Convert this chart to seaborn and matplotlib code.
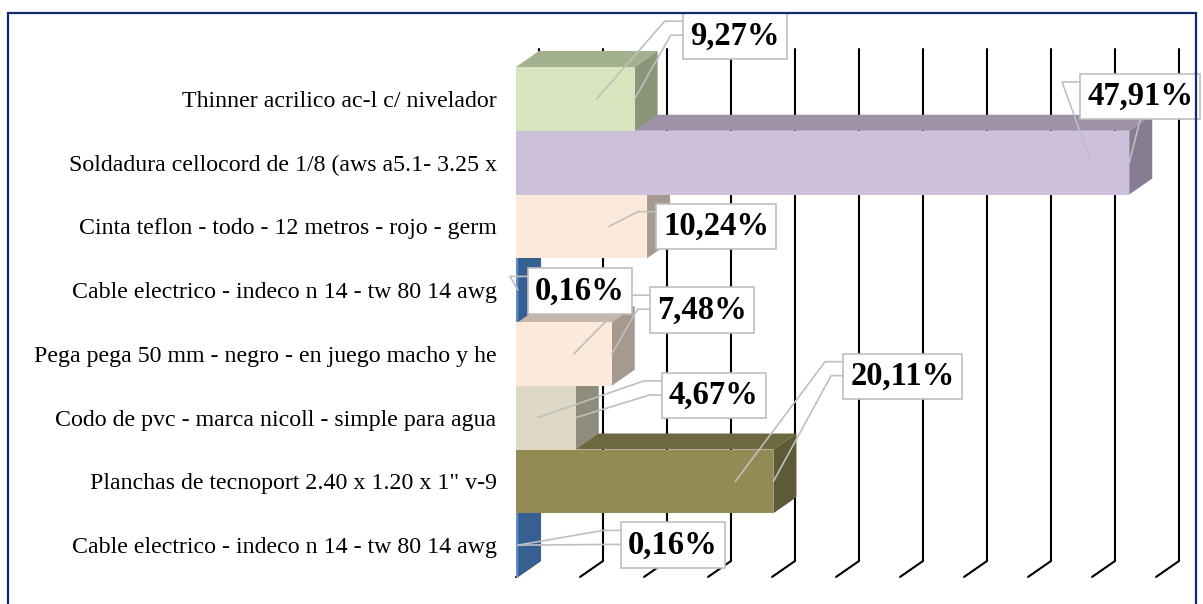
import matplotlib
matplotlib.use("Agg")
import matplotlib.pyplot as plt
from matplotlib.patches import Polygon, Rectangle
from matplotlib.lines import Line2D
import pandas as pd
import seaborn as sns

# ---------------------------------------------------------------
# data (top to bottom as shown in the chart)
# ---------------------------------------------------------------
items = [
    "Thinner acrilico ac-l c/ nivelador",
    "Soldadura cellocord de 1/8 (aws a5.1- 3.25 x",
    "Cinta teflon - todo - 12 metros - rojo - germ",
    "Cable electrico - indeco n 14 - tw 80 14 awg",
    "Pega pega 50 mm - negro - en juego macho y he",
    "Codo de pvc - marca nicoll - simple para agua",
    "Planchas de tecnoport 2.40 x 1.20 x 1\" v-9",
    "Cable electrico - indeco n 14 - tw 80 14 awg",
]
shares = [9.27, 47.91, 10.24, 0.16, 7.48, 4.67, 20.11, 0.16]
x_ticks = [0, 5, 10, 15, 20, 25, 30, 35, 40, 45, 50]

# colours of the three visible faces of each bar
front_cols = ["#D7E4BD", "#CCC0DA", "#FDE9D9", "#5B8FCF",
              "#FDE9D9", "#DDD9C4", "#948A54", "#5B8FCF"]
top_cols = ["#A4B18F", "#9D92A8", "#C2B3A8", "#2F5580",
            "#C5B6AA", "#A9A696", "#6E6840", "#2F5580"]
side_cols = ["#8A9677", "#877D92", "#A59A90", "#376092",
             "#A69A90", "#8F8C7C", "#5E5936", "#376092"]

# label box offsets from bar end (px: right, down)
box_offsets = [(100, -63), (11, -66), (69, 0), (62, 1),
               (90, -44), (138, -22), (129, -105), (155, 0)]

W, H, DPI = 1203, 604, 100
DX, DY = 23, 16  # depth of the 3D effect in px

sns.set_theme(style="white")
plt.rcParams["font.family"] = ["Liberation Serif", "DejaVu Serif"]

fig = plt.figure(figsize=(W / DPI, H / DPI), dpi=DPI)
ax = fig.add_axes([516 / W, 27 / H, 640 / W, 510 / H])

ids = [str(i) for i in range(len(items))]
df = pd.DataFrame({"id": ids, "share": shares})
sns.barplot(data=df, x="share", y="id", hue="id", order=ids,
            palette=dict(zip(ids, front_cols)), width=1.0, legend=False,
            linewidth=0, saturation=1, ax=ax)

ax.set_xlim(0, 50)
ax.set_ylim(len(items) - 0.5, -0.5)
ax.set_xticks([])
ax.set_yticks(range(len(items)))
ax.set_yticklabels(items, fontsize=17.2, color="black")
ax.tick_params(axis="y", length=0, pad=14)
ax.set_xlabel("")
ax.set_ylabel("")
sns.despine(ax=ax, left=True, bottom=True)

to_axes = ax.transAxes.inverted()


def disp_poly(pts, **kw):
    p = Polygon(to_axes.transform(pts), closed=True, transform=ax.transAxes,
                clip_on=False, **kw)
    ax.add_patch(p)


def disp_line(pts, **kw):
    a = to_axes.transform(pts)
    ln = Line2D(a[:, 0], a[:, 1], transform=ax.transAxes, clip_on=False, **kw)
    ax.add_line(ln)


# back wall gridlines + floor segments
for xv in x_ticks:
    fx, fy = ax.transData.transform((xv, len(items) - 0.5))
    _, ty = ax.transData.transform((xv, -0.5))
    disp_line([(fx, fy), (fx + DX, fy + DY), (fx + DX, ty + DY + 2)],
              color="black", lw=1.5, zorder=1, solid_joinstyle="miter")

# 3D faces; upper bars sit in front of lower ones
n = len(items)
for i, (patch, v) in enumerate(zip(ax.patches, shares)):
    base = 10 + 3 * (n - i)
    patch.set_zorder(base + 1)
    x0, ytop = ax.transData.transform((0, i - 0.5))
    x1, ybot = ax.transData.transform((v, i + 0.5))
    disp_poly([(x0, ytop), (x1, ytop), (x1 + DX, ytop + DY), (x0 + DX, ytop + DY)],
              facecolor=top_cols[i], edgecolor="none", zorder=base)
    disp_poly([(x1, ytop), (x1 + DX, ytop + DY), (x1 + DX, ybot + DY), (x1, ybot)],
              facecolor=side_cols[i], edgecolor="none", zorder=base)

# value labels
anns = []
for i, v in enumerate(shares):
    ox, oy = box_offsets[i]
    txt = f"{v:.2f}".replace(".", ",") + "%"
    a = ax.annotate(txt, xy=(v, i), xytext=(ox * 0.72, -oy * 0.72),
                    textcoords="offset points", ha="center", va="center",
                    fontsize=23.5, fontweight="bold", color="black", zorder=300,
                    annotation_clip=False,
                    bbox=dict(boxstyle="square,pad=0.22", facecolor="white",
                              edgecolor="#BFBFBF", linewidth=1.2))
    anns.append(a)

# leader lines: one to the front face, one to the bar's end edge
fig.canvas.draw()
renderer = fig.canvas.get_renderer()
x_origin = ax.transData.transform((0, 0))[0]
for i, (a, v) in enumerate(zip(anns, shares)):
    bb = a.get_bbox_patch().get_window_extent(renderer)
    xf, yc = ax.transData.transform((v, i))
    L, T, B, R = bb.x0, bb.y1, bb.y0, bb.x1
    end1 = (max(xf - 38, x_origin + 2), yc)
    disp_line([(L, T - 8), (L - 18, T - 8), end1], color="#BFBFBF", lw=1.2, zorder=200)
    if L < xf < R:
        disp_line([(min(xf + 11, R - 4), B), (xf, yc)], color="#BFBFBF", lw=1.2, zorder=200)
    elif xf < L - 12:
        disp_line([(L, T - 22), (L - 12, T - 22), (xf, yc)], color="#BFBFBF", lw=1.2, zorder=200)

# outer chart frame
fig.patches.append(Rectangle((8 / W, -0.01), 1188 / W, (H - 13) / H + 0.01,
                             transform=fig.transFigure, fill=False,
                             edgecolor="#102A6B", linewidth=1.6))

fig.savefig("out.png", dpi=DPI)
